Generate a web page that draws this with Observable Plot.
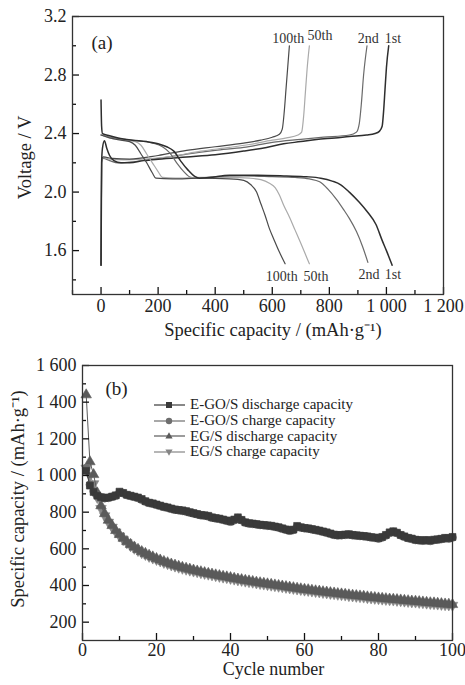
<!DOCTYPE html>
<html><head><meta charset="utf-8">
<script src="https://cdn.jsdelivr.net/npm/d3@7"></script>
<script src="https://cdn.jsdelivr.net/npm/@observablehq/plot@0.6"></script>
<style>
html,body{margin:0;padding:0;background:#fff;}
#wrap{position:relative;width:465px;height:685px;overflow:hidden;font-family:"Liberation Serif","Times New Roman",serif;color:#222;}
#wrap svg{display:block}
#legend{position:absolute;left:154px;top:397px;font-size:15px;}
.row{display:flex;align-items:center;height:15.8px;white-space:nowrap;line-height:15.8px}
.row svg{margin-right:5px}
</style></head><body><div id="wrap"></div>
<script>
// ---------- Panel (a): voltage profiles ----------
const dis1Cap = [0, 2, 5, 30, 60, 110, 160, 200, 230, 255, 280, 305, 330, 345, 380, 450, 550, 650, 720, 770, 810, 840, 870, 905, 935, 963, 985, 1000, 1020];
const dis1V   = [2.63, 2.45, 2.40, 2.385, 2.37, 2.355, 2.345, 2.33, 2.31, 2.28, 2.21, 2.15, 2.105, 2.095, 2.10, 2.115, 2.115, 2.11, 2.105, 2.095, 2.075, 2.05, 2.00, 1.93, 1.86, 1.78, 1.67, 1.60, 1.50];
const dis2Cap = [0, 30, 80, 130, 180, 215, 240, 265, 290, 315, 340, 400, 500, 600, 680, 730, 766, 795, 825, 850, 870, 895, 916, 935];
const dis2V   = [2.39, 2.375, 2.36, 2.35, 2.335, 2.31, 2.27, 2.20, 2.14, 2.10, 2.095, 2.105, 2.11, 2.105, 2.10, 2.09, 2.07, 2.02, 1.95, 1.88, 1.82, 1.73, 1.63, 1.52];
const dis50Cap = [0, 30, 80, 120, 140, 160, 180, 200, 215, 260, 350, 450, 520, 560, 590, 610, 625, 640, 660, 680, 700, 715, 730];
const dis50V   = [2.39, 2.37, 2.355, 2.345, 2.32, 2.26, 2.20, 2.14, 2.10, 2.095, 2.10, 2.10, 2.095, 2.085, 2.06, 2.03, 1.98, 1.91, 1.83, 1.74, 1.65, 1.58, 1.51];
const dis100Cap = [0, 30, 70, 100, 120, 140, 160, 180, 192, 250, 350, 450, 500, 525, 545, 560, 575, 590, 605, 625, 645];
const dis100V   = [2.39, 2.37, 2.355, 2.345, 2.32, 2.26, 2.20, 2.13, 2.095, 2.09, 2.095, 2.09, 2.08, 2.05, 2.00, 1.92, 1.84, 1.75, 1.68, 1.59, 1.51];

const chg1Cap = [0, 2, 5, 12, 20, 30, 45, 70, 100, 150, 200, 300, 400, 500, 580, 640, 700, 755, 820, 870, 930, 960, 975, 985, 990, 995, 1000, 1008];
const chg1V   = [1.50, 2.20, 2.30, 2.35, 2.30, 2.25, 2.215, 2.20, 2.20, 2.215, 2.225, 2.24, 2.255, 2.28, 2.305, 2.33, 2.345, 2.36, 2.37, 2.38, 2.39, 2.40, 2.415, 2.45, 2.55, 2.70, 2.85, 3.00];
const chg2Cap = [0, 2, 8, 30, 60, 100, 200, 300, 400, 500, 600, 700, 780, 870, 895, 905, 912, 920, 932];
const chg2V   = [1.50, 2.20, 2.23, 2.215, 2.20, 2.205, 2.23, 2.26, 2.285, 2.305, 2.34, 2.36, 2.375, 2.39, 2.41, 2.47, 2.60, 2.80, 3.00];
const chg50Cap = [0, 2, 8, 30, 80, 150, 250, 350, 450, 520, 600, 650, 690, 703, 710, 716, 722, 730];
const chg50V   = [1.50, 2.21, 2.235, 2.225, 2.22, 2.225, 2.245, 2.28, 2.305, 2.325, 2.355, 2.37, 2.39, 2.41, 2.52, 2.68, 2.84, 3.00];
const chg100Cap = [0, 2, 8, 40, 100, 200, 300, 400, 500, 560, 600, 625, 635, 642, 648, 654, 660];
const chg100V   = [1.50, 2.22, 2.24, 2.23, 2.225, 2.25, 2.285, 2.31, 2.335, 2.355, 2.375, 2.395, 2.43, 2.55, 2.70, 2.85, 3.00];

const topLabels = ["100th", "50th", "2nd", "1st"];
const topLabelCap = [656, 767, 936, 1023];
const topLabelV = [3.05, 3.07, 3.05, 3.05];
const bottomLabels = ["100th", "50th", "2nd", "1st"];
const bottomLabelCap = [633, 753, 939, 1023];
const bottomLabelV = [1.42, 1.42, 1.44, 1.44];

const xMajorA = [0, 200, 400, 600, 800, 1000, 1200];
const xMinorA = [-100, 100, 300, 500, 700, 900, 1100];
const yMajorA = [1.6, 2.0, 2.4, 2.8, 3.2];
const yMinorA = [1.4, 1.8, 2.2, 2.6, 3.0];

// ---------- Panel (b): cycling ----------
const cycles = d3.range(1, 101);
const egoDischarge = [1025,945,910,890,882,878,880,885,892,912,905,895,890,885,880,872,860,852,848,842,836,830,826,820,815,812,810,806,800,795,790,785,783,780,772,768,765,760,755,750,760,772,758,745,740,738,735,732,730,728,726,722,718,712,706,700,705,725,718,714,712,708,704,700,695,690,684,678,675,676,678,680,676,674,672,670,668,664,662,658,665,676,690,696,688,676,668,660,656,650,648,646,648,645,650,652,655,660,658,665];
const egoCharge = [1040,950,915,893,880,876,878,884,890,906,903,893,888,883,877,868,858,850,846,840,834,828,824,818,813,810,807,803,798,793,788,783,781,777,770,766,763,758,753,748,756,768,756,743,738,736,733,730,728,726,724,720,716,710,704,699,703,720,716,712,710,706,702,698,693,688,682,676,673,674,676,678,674,672,670,668,666,662,660,656,662,673,686,693,686,674,666,658,654,648,646,644,646,643,648,650,653,657,656,662];
const egDischarge = [1440,1075,1005,905,835,792,756,727,700,678,658,640,624,610,597,585,575,565,556,547,539,531,524,517,511,505,499,494,489,484,479,475,470,466,462,458,454,450,447,443,439,435,432,428,425,422,418,415,412,409,406,403,400,397,394,391,388,385,382,379,377,374,371,369,366,364,361,359,356,354,352,349,347,345,343,341,338,336,334,332,330,328,326,325,323,321,319,317,315,314,312,310,308,306,305,303,301,299,298,296];
const egCharge = [1040,1000,955,880,820,780,745,718,692,670,650,633,617,603,591,579,569,559,550,542,534,526,519,512,506,500,494,489,484,479,475,470,466,462,458,454,450,446,443,439,435,431,428,424,421,418,414,411,408,405,402,399,396,393,390,387,384,381,378,375,373,370,367,365,362,360,357,355,352,350,348,345,343,341,339,337,334,332,330,328,326,324,322,321,319,317,315,313,311,310,308,306,304,302,301,299,297,295,294,292];
const seriesNames = ["E-GO/S discharge capacity", "E-GO/S charge capacity", "EG/S discharge capacity", "EG/S charge capacity"];

const xMajorB = [0, 20, 40, 60, 80, 100];
const xMinorB = [10, 30, 50, 70, 90];
const yMajorB = [200, 400, 600, 800, 1000, 1200, 1400, 1600];
const yMinorB = [300, 500, 700, 900, 1100, 1300, 1500];

// ---------- helpers ----------
const FONT = '"Liberation Serif","Times New Roman",serif';
const thou = d => d3.format(",")(d).replace(/,/g, " ");
const toRows = (xs, ys) => xs.map((x, i) => ({x, y: ys[i]}));

// inward ticks: tickX/tickY spanning the frame, inset so only a short piece remains
function axesMarks(fw, fh, xMaj, xMin, yMaj, yMin, xFmt, yFmt, pad) {
  const tk = {stroke: "#111", strokeWidth: 1.3};
  return [
    Plot.axisX(xMaj, {anchor: "bottom", tickSize: 0, tickPadding: pad, tickFormat: xFmt, label: null, fontSize: 18, fill: "#222"}),
    Plot.axisY(yMaj, {anchor: "left", tickSize: 0, tickPadding: 6, tickFormat: yFmt, label: null, fontSize: 18, fill: "#222"}),
    Plot.tickX(xMaj, {x: d => d, insetTop: fh - 7, ...tk}),
    Plot.tickX(xMin, {x: d => d, insetTop: fh - 4, ...tk}),
    Plot.tickY(yMaj, {y: d => d, insetRight: fw - 7, ...tk}),
    Plot.tickY(yMin, {y: d => d, insetRight: fw - 4, ...tk}),
    Plot.frame({stroke: "#333", strokeWidth: 1.3})
  ];
}

const wrap = document.getElementById("wrap");

// ---------- Panel (a) ----------
const curves = [
  {cap: chg2Cap, v: chg2V, color: "#6a6a6a", w: 1.2},
  {cap: chg50Cap, v: chg50V, color: "#aaaaaa", w: 1.2},
  {cap: chg100Cap, v: chg100V, color: "#4a4a4a", w: 1.2},
  {cap: chg1Cap, v: chg1V, color: "#2e2e2e", w: 1.5},
  {cap: dis2Cap, v: dis2V, color: "#6a6a6a", w: 1.2},
  {cap: dis50Cap, v: dis50V, color: "#aaaaaa", w: 1.2},
  {cap: dis100Cap, v: dis100V, color: "#4a4a4a", w: 1.2},
  {cap: dis1Cap, v: dis1V, color: "#2e2e2e", w: 1.5}
];

const A = {w: 465, h: 340, t: 16, b: 46, l: 72, r: 22};
const plotA = Plot.plot({
  width: A.w, height: A.h,
  marginTop: A.t, marginBottom: A.b, marginLeft: A.l, marginRight: A.r,
  style: {fontFamily: FONT, fontSize: "18px", color: "#222", background: "white"},
  x: {domain: [-100, 1200]},
  y: {domain: [1.3, 3.2]},
  marks: [
    ...curves.map(c => Plot.line(toRows(c.cap, c.v), {x: "x", y: "y", stroke: c.color, strokeWidth: c.w, curve: "monotone-x"})),
    Plot.text(topLabels, {x: topLabelCap, y: topLabelV, text: d => d, fontSize: 14, fill: "#333"}),
    Plot.text(bottomLabels, {x: bottomLabelCap, y: bottomLabelV, text: d => d, fontSize: 14, fill: "#333"}),
    ...axesMarks(A.w - A.l - A.r, A.h - A.t - A.b, xMajorA, xMinorA, yMajorA, yMinorA, thou, d3.format(".1f"), 5),
    Plot.text(["(a)"], {frameAnchor: "top-left", dx: 19, dy: 26, textAnchor: "start", lineAnchor: "middle", fontSize: 19, fill: "#222"}),
    Plot.text(["Specific capacity / (mAh·g⁻¹)"], {frameAnchor: "bottom", dx: 15, dy: 36, textAnchor: "middle", lineAnchor: "middle", fontSize: 18.5, fill: "#222"}),
    Plot.text(["Voltage / V"], {frameAnchor: "left", rotate: -90, dx: -47, dy: 2, textAnchor: "middle", lineAnchor: "middle", fontSize: 18.5, fill: "#222"})
  ]
});
wrap.appendChild(plotA);

// ---------- Panel (b) ----------
const seriesB = [
  {vals: egCharge, color: "#858585", symbol: "triangle", rotate: 180},
  {vals: egDischarge, color: "#5a5a5a", symbol: "triangle", rotate: 0},
  {vals: egoCharge, color: "#6e6e6e", symbol: "circle", rotate: 0},
  {vals: egoDischarge, color: "#3a3a3a", symbol: "square", rotate: 0}
];

const B = {w: 465, h: 345, t: 25, b: 45, l: 82, r: 13};
const plotB = Plot.plot({
  width: B.w, height: B.h,
  marginTop: B.t, marginBottom: B.b, marginLeft: B.l, marginRight: B.r,
  style: {fontFamily: FONT, fontSize: "18px", color: "#222", background: "white"},
  x: {domain: [0, 100]},
  y: {domain: [100, 1600]},
  marks: [
    ...seriesB.flatMap(s => [
      Plot.line(toRows(cycles, s.vals), {x: "x", y: "y", stroke: s.color, strokeWidth: 1}),
      Plot.dot(toRows(cycles, s.vals), {x: "x", y: "y", symbol: s.symbol, rotate: s.rotate, fill: s.color, stroke: s.color, strokeWidth: 0.6, r: 3.9})
    ]),
    ...axesMarks(B.w - B.l - B.r, B.h - B.t - B.b, xMajorB, xMinorB, yMajorB, yMinorB, d => d, thou, 3),
    Plot.text(["(b)"], {frameAnchor: "top-left", dx: 23, dy: 23, textAnchor: "start", lineAnchor: "middle", fontSize: 19, fill: "#222"}),
    Plot.text(["Cycle number"], {frameAnchor: "bottom", dx: 6, dy: 29, textAnchor: "middle", lineAnchor: "middle", fontSize: 18, fill: "#222"}),
    Plot.text(["Specific capacity / (mAh·g⁻¹)"], {frameAnchor: "left", rotate: -90, dx: -64, dy: -4, textAnchor: "middle", lineAnchor: "middle", fontSize: 18.5, fill: "#222"})
  ]
});
wrap.appendChild(plotB);

// ---------- Legend (panel b) ----------
const legendColors = ["#3a3a3a", "#6e6e6e", "#5a5a5a", "#858585"];
const legendShapes = [
  '<rect x="12" y="3" width="6" height="6"/>',
  '<circle cx="15" cy="6" r="3.2"/>',
  '<polygon points="15,2.2 18.6,8.6 11.4,8.6"/>',
  '<polygon points="15,9.8 18.6,3.4 11.4,3.4"/>'
];
const legend = document.createElement("div");
legend.id = "legend";
legend.innerHTML = seriesNames.map((name, i) =>
  `<div class="row"><svg width="31" height="12" viewBox="0 0 31 12"><line x1="0" y1="6" x2="31" y2="6" stroke="${legendColors[i]}" stroke-width="1.2"/><g fill="${legendColors[i]}">${legendShapes[i]}</g></svg><span>${name}</span></div>`
).join("");
wrap.appendChild(legend);
</script></body></html>
